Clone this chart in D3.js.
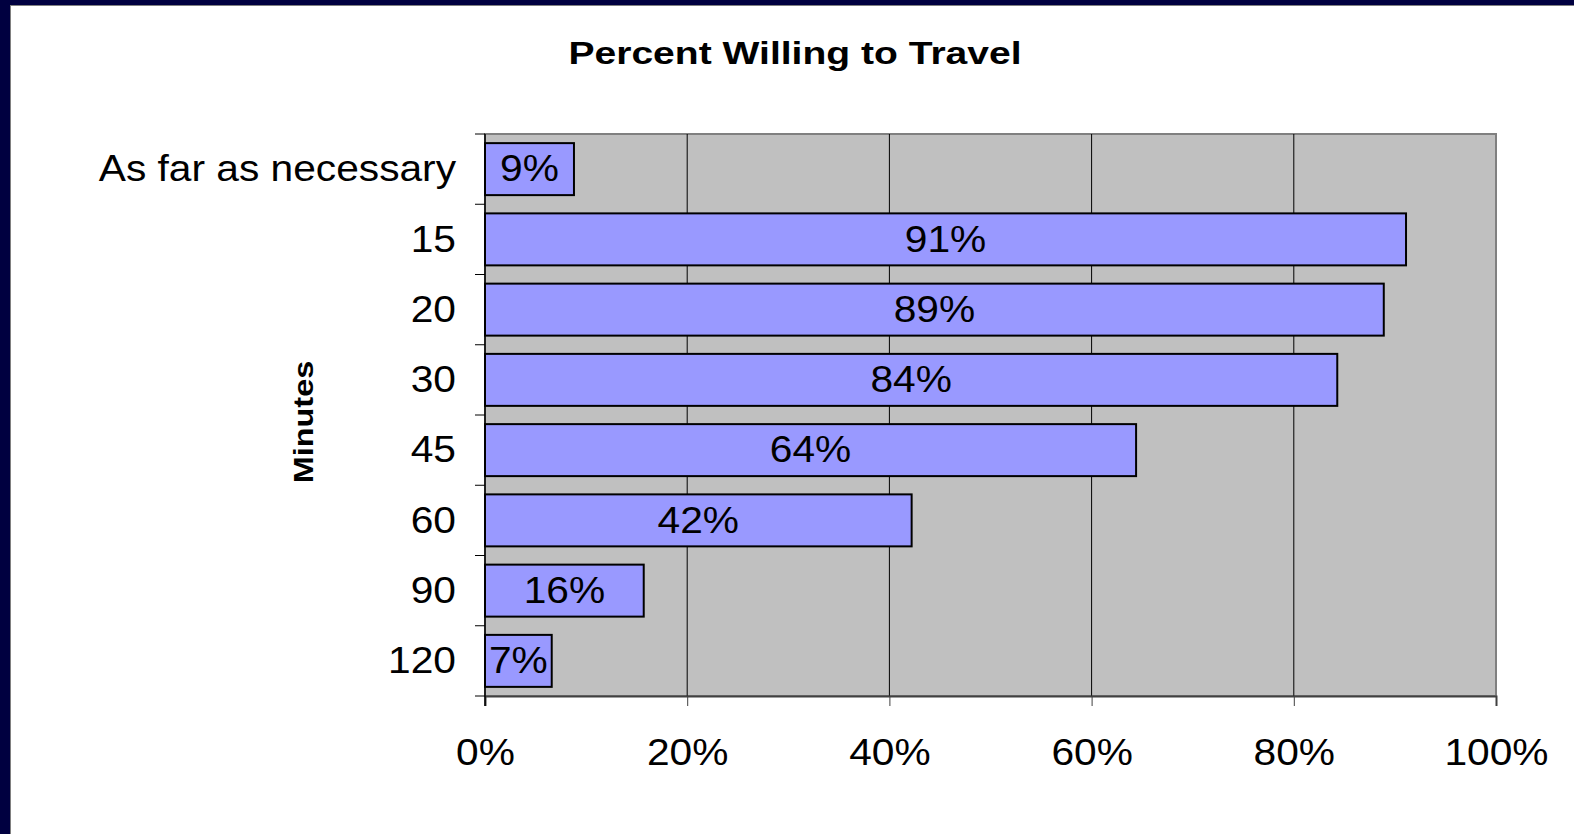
<!DOCTYPE html>
<html>
<head>
<meta charset="utf-8">
<script src="https://cdn.jsdelivr.net/npm/d3@7"></script>
<style>
  html, body { margin: 0; padding: 0; background: #000040; }
  svg { display: block; }
</style>
</head>
<body>
<svg id="chart" width="1574" height="834"></svg>
<script>
const categories = ["As far as necessary", "15", "20", "30", "45", "60", "90", "120"];
const values = [8.8, 91.1, 88.9, 84.3, 64.4, 42.2, 15.7, 6.6];
const xTicks = [0, 20, 40, 60, 80, 100];
const chartTitle = "Percent Willing to Travel";
const yTitle = "Minutes";

(function () {
const svg = d3.select("#chart");
const W = 1574, H = 834;
const font = "'Liberation Sans', Arial, sans-serif";
const sx = 1.1; // horizontal stretch of text in the reference

// background panel
svg.append("rect").attr("x", 0).attr("y", 0).attr("width", W).attr("height", H).attr("fill", "#000040");
svg.append("rect").attr("x", 10.5).attr("y", 5.5).attr("width", W - 10).attr("height", H - 5)
  .attr("fill", "#ffffff").attr("stroke", "#808080").attr("stroke-width", 1);

const pLeft = 485, pRight = 1496, pTop = 134, pBottom = 696;

const x = d3.scaleLinear().domain([0, 100]).range([pLeft, pRight]);
const y = d3.scaleBand().domain(categories).range([pTop, pBottom]).paddingInner(0.26).paddingOuter(0.13);

// plot area
svg.append("rect").attr("x", pLeft).attr("y", pTop).attr("width", pRight - pLeft).attr("height", pBottom - pTop)
  .attr("fill", "#c0c0c0").attr("stroke", "#808080").attr("stroke-width", 2);

// gridlines
svg.append("g").selectAll("line").data(xTicks.filter(d => d > 0 && d < 100)).join("line")
  .attr("x1", d => x(d)).attr("x2", d => x(d)).attr("y1", pTop).attr("y2", pBottom)
  .attr("stroke", "#000").attr("stroke-width", 1);

// bars
svg.append("g").selectAll("rect").data(values).join("rect")
  .attr("x", x(0))
  .attr("y", (d, i) => y(categories[i]))
  .attr("width", d => x(d) - x(0))
  .attr("height", y.bandwidth())
  .attr("fill", "#9999ff").attr("stroke", "#000").attr("stroke-width", 2);

// bar labels
svg.append("g").selectAll("text").data(values).join("text")
  .attr("transform", (d, i) => `translate(${(x(0) + x(d)) / 2},${y(categories[i]) + y.bandwidth() / 2 - 1}) scale(${sx},1)`)
  .attr("dy", "0.36em")
  .attr("text-anchor", "middle")
  .attr("font-family", font).attr("font-size", 37).attr("fill", "#000")
  .text(d => Math.round(d) + "%");

// x axis
const xAxis = d3.axisBottom(x).tickValues(xTicks).tickFormat(d => d + "%").tickSize(10).tickPadding(33);
const gx = svg.append("g").attr("transform", `translate(0,${pBottom})`).call(xAxis);
gx.select(".domain").attr("stroke", "#404040").attr("stroke-width", 2);
gx.selectAll(".tick line").attr("stroke", "#404040").attr("stroke-width", 1);
gx.selectAll("text").attr("font-family", font).attr("font-size", 37).attr("fill", "#000")
  .attr("transform", `scale(${sx},1)`);

// y axis
const step = y.step();
const boundaries = d3.range(categories.length + 1).map(i => pTop + i * step);
svg.append("g").selectAll("line").data(boundaries).join("line")
  .attr("x1", pLeft - 10).attr("x2", pLeft).attr("y1", d => d).attr("y2", d => d)
  .attr("stroke", "#000").attr("stroke-width", 1);
svg.append("line").attr("x1", pLeft).attr("x2", pLeft).attr("y1", pTop).attr("y2", pBottom + 10)
  .attr("stroke", "#000").attr("stroke-width", 1.5);
svg.append("g").selectAll("text").data(categories).join("text")
  .attr("transform", d => `translate(${pLeft - 29},${y(d) + y.bandwidth() / 2 - 1}) scale(${sx},1)`)
  .attr("dy", "0.36em")
  .attr("text-anchor", "end")
  .attr("font-family", font).attr("font-size", 37).attr("fill", "#000")
  .text(d => d);

// title
svg.append("text")
  .attr("transform", `translate(795,64) scale(1.26,1)`)
  .attr("text-anchor", "middle")
  .attr("font-family", font).attr("font-size", 31).attr("font-weight", "bold")
  .text(chartTitle);

// y title
svg.append("text")
  .attr("transform", `translate(313,${(pTop + pBottom) / 2 + 7}) rotate(-90) scale(1.2,1)`)
  .attr("text-anchor", "middle")
  .attr("font-family", font).attr("font-size", 27).attr("font-weight", "bold")
  .text(yTitle);
})();
</script>
</body>
</html>
